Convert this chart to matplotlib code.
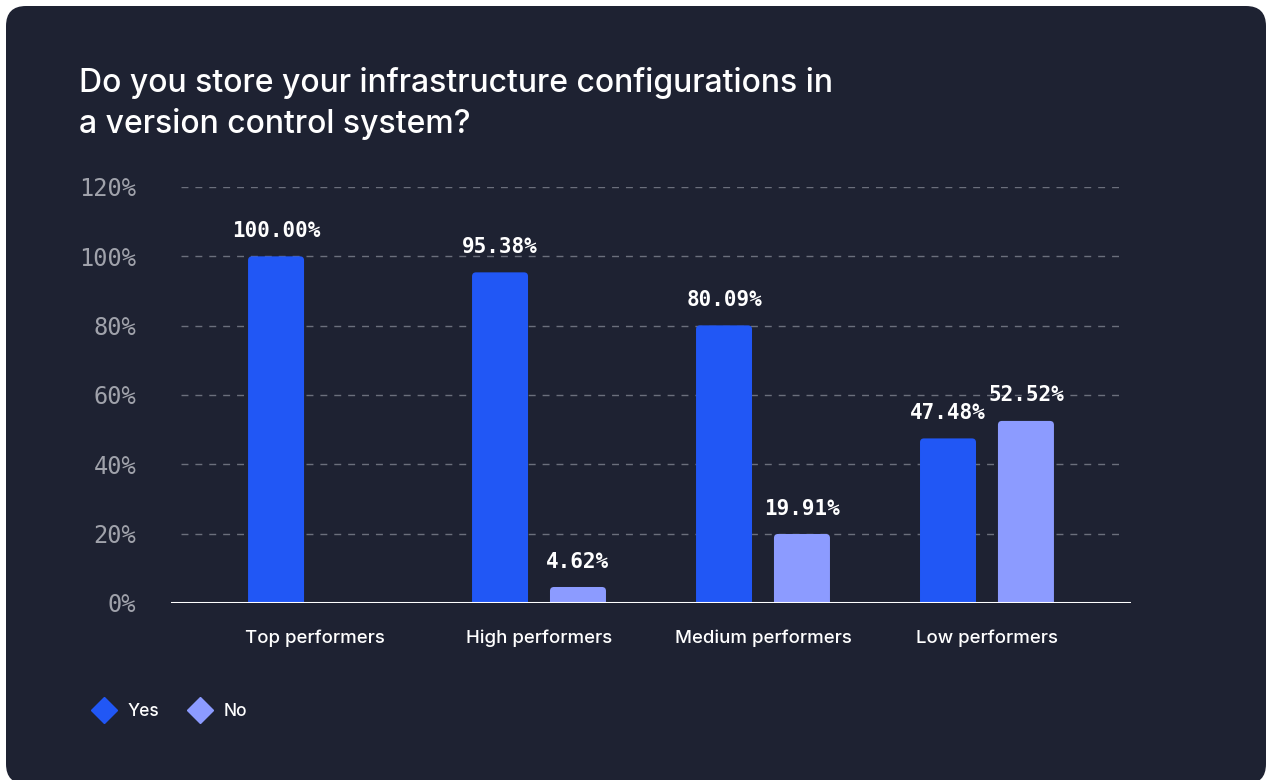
import numpy as np
import matplotlib
matplotlib.use("Agg")
from matplotlib import pyplot as plt
from matplotlib.patches import FancyBboxPatch, BoxStyle
from matplotlib.lines import Line2D

# survey answers by performer group (percent of respondents)
categories = ["Top performers", "High performers", "Medium performers", "Low performers"]
yes_pct = [100.00, 95.38, 80.09, 47.48]
no_pct = [0.00, 4.62, 19.91, 52.52]
series_names = ["Yes", "No"]
yticks = [0, 20, 40, 60, 80, 100, 120]

BG = "#1e2232"
YES_C = "#2157f5"
NO_C = "#8c9bff"
GRID_C = "#6b6f7c"
TICK_C = "#a0a2ab"

W, H = 1268, 780
fig = plt.figure(figsize=(W / 100, H / 100), dpi=100, facecolor="white")

# dark rounded card behind everything
card = FancyBboxPatch((6 / W, -4 / H), 1260 / W, 778 / H,
                      boxstyle=BoxStyle.Round(pad=0, rounding_size=20 / W),
                      mutation_aspect=W / H, transform=fig.transFigure,
                      facecolor=BG, edgecolor="none", zorder=0)
fig.patches.append(card)

ax = fig.add_axes([171 / W, (H - 603) / H, 960 / W, 416 / H])
ax.set_facecolor("none")
ax.set_zorder(2)

x = np.arange(len(categories))
xlim = (-0.643, len(categories) - 1 + 0.643)
ylim = (0, 120)
ax.set_xlim(*xlim)
ax.set_ylim(*ylim)

bw = 0.25
off = 0.174
bars_yes = ax.bar(x - off, yes_pct, bw, color=YES_C)
bars_no = ax.bar(x + off, no_pct, bw, color=NO_C)

# swap plain rectangles for ones with rounded corners
xu_px = (xlim[1] - xlim[0]) / 960
yu_px = (ylim[1] - ylim[0]) / 416
for bars in (bars_yes, bars_no):
    for b in bars:
        bx, by = b.get_xy()
        bwid, bh = b.get_width(), b.get_height()
        fc = b.get_facecolor()
        b.remove()
        if bh <= 0:
            continue
        p = FancyBboxPatch((bx, by - 3 * yu_px), bwid, bh + 3 * yu_px,
                           boxstyle=BoxStyle.Round(pad=0, rounding_size=4 * xu_px),
                           mutation_aspect=yu_px / xu_px,
                           facecolor=fc, edgecolor="none", zorder=3)
        ax.add_patch(p)

# value labels
for xs, vals in ((x - off, yes_pct), (x + off, no_pct)):
    for xi, v in zip(xs, vals):
        if v <= 0:
            continue
        ax.annotate(f"{v:.2f}%", (xi, v), xytext=(0, 14), textcoords="offset points",
                    ha="center", va="baseline", color="white",
                    fontsize=15, fontweight="bold", family="DejaVu Sans Mono",
                    annotation_clip=False, zorder=5)

# dashed grid, slightly inset from the axis ends
for t in yticks[1:]:
    ax.hlines(t, xlim[0] + 10 * xu_px, xlim[1] - 8 * xu_px, colors=GRID_C,
              linewidth=1, linestyles=(0, (5, 5)), zorder=1)
ax.axhline(0, color="white", linewidth=2.2, zorder=4)

for s in ax.spines.values():
    s.set_visible(False)
ax.set_yticks(yticks)
ax.set_yticklabels([f"{t}%" for t in yticks], family="DejaVu Sans Mono",
                   fontsize=17, color=TICK_C)
ax.set_xticks(x)
ax.set_xticklabels(categories, family="Inter", fontsize=13.4, fontweight="medium",
                   color="white")
ax.tick_params(axis="y", length=0, pad=25)
ax.tick_params(axis="x", length=0, pad=19)

fig.text(79 / W, 1 - 133 / H,
         "Do you store your infrastructure configurations in\na version control system?",
         ha="left", va="baseline", family="Inter", fontsize=23, fontweight="medium",
         color="white", linespacing=1.35)

handles = [Line2D([], [], linestyle="none", marker="D", markersize=13,
                  markerfacecolor=c, markeredgecolor=c)
           for c in (YES_C, NO_C)]
fig.legend(handles, series_names, loc="center left",
           bbox_to_anchor=(78 / W, 1 - 712 / H), frameon=False, ncol=2,
           prop={"family": "Inter", "size": 12.5, "weight": "medium"}, labelcolor="white",
           handletextpad=0.75, columnspacing=1.75, handlelength=1.2)

fig.savefig("out.png", dpi=100, facecolor="white")
